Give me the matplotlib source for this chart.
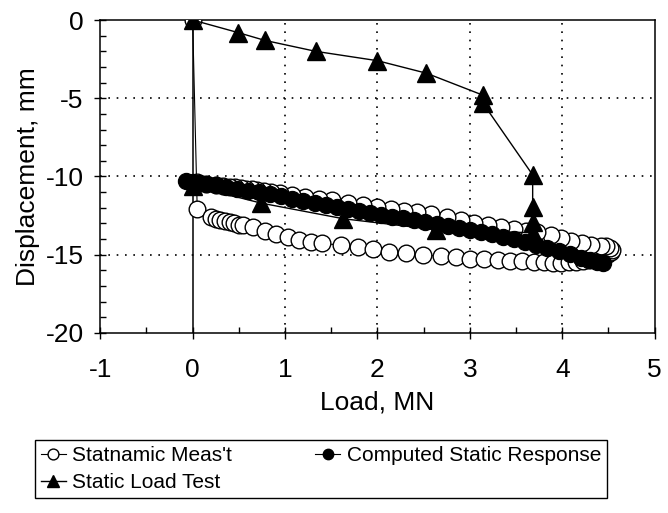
import matplotlib.pyplot as plt

plt.rcParams['font.family'] = ['Liberation Sans', 'DejaVu Sans']
plt.rcParams['axes.unicode_minus'] = False

# Statnamic measurement (open circles), loop: down the lower branch, back along the upper one
stat_x = [0.0, 0.05, 0.2, 0.25, 0.3, 0.35, 0.4, 0.45, 0.5, 0.55, 0.65, 0.78, 0.9, 1.03,
          1.15, 1.28, 1.4, 1.61, 1.79, 1.95, 2.13, 2.31, 2.49, 2.69, 2.85, 3.0, 3.15, 3.3,
          3.44, 3.57, 3.69, 3.8, 3.9, 3.99, 4.07, 4.15, 4.22, 4.29, 4.35, 4.41, 4.46, 4.5,
          4.53, 4.54, 4.52, 4.47, 4.42, 4.31, 4.21, 4.1, 3.99, 3.88, 3.73, 3.61, 3.48, 3.34,
          3.2, 3.05, 2.9, 2.75, 2.58, 2.43, 2.29, 2.15, 2.0, 1.84, 1.68, 1.51, 1.37, 1.22,
          1.08, 0.95, 0.85, 0.77, 0.7, 0.64, 0.58, 0.52, 0.46, 0.4, 0.33, 0.25, 0.15, 0.05]
stat_y = [0.0, -12.1, -12.6, -12.7, -12.8, -12.87, -12.93, -13.0, -13.07, -13.13, -13.26,
          -13.46, -13.7, -13.88, -14.05, -14.2, -14.27, -14.4, -14.53, -14.65, -14.82, -14.91,
          -15.03, -15.09, -15.17, -15.25, -15.3, -15.35, -15.4, -15.43, -15.46, -15.48, -15.5,
          -15.5, -15.49, -15.46, -15.42, -15.37, -15.3, -15.2, -15.08, -14.95, -14.8, -14.67,
          -14.55, -14.47, -14.42, -14.37, -14.26, -14.1, -13.92, -13.73, -13.58, -13.46,
          -13.35, -13.22, -13.1, -12.95, -12.8, -12.62, -12.42, -12.3, -12.19, -12.08, -11.93,
          -11.8, -11.69, -11.53, -11.42, -11.3, -11.18, -11.06, -10.98, -10.92, -10.86, -10.82,
          -10.78, -10.74, -10.7, -10.66, -10.6, -10.55, -10.45, -10.35]

# Computed static response (filled circles)
comp_x = [-0.07, 0.0, 0.08, 0.16, 0.25, 0.36, 0.48, 0.6, 0.72, 0.84, 0.96, 1.08, 1.2, 1.32,
          1.44, 1.56, 1.68, 1.8, 1.92, 2.04, 2.16, 2.28, 2.4, 2.52, 2.64, 2.76, 2.88, 3.0,
          3.12, 3.24, 3.36, 3.48, 3.6, 3.72, 3.84, 3.96, 4.08, 4.2, 4.3, 4.38, 4.44]
comp_y = [-10.3, -10.35, -10.4, -10.47, -10.55, -10.66, -10.78, -10.9, -11.02, -11.15, -11.28,
          -11.42, -11.56, -11.7, -11.84, -11.96, -12.08, -12.2, -12.32, -12.44, -12.56, -12.68,
          -12.8, -12.92, -13.04, -13.16, -13.28, -13.42, -13.56, -13.7, -13.86, -14.02, -14.2,
          -14.38, -14.58, -14.78, -14.98, -15.18, -15.34, -15.46, -15.52]

# Static load test (triangles)
slt_x = [0.0, 0.49, 0.78, 1.33, 2.0, 2.53, 3.14, 3.14, 3.68, 3.68, 3.68, 3.68, 2.63, 1.63, 0.74, 0.0]
slt_y = [0.0, -0.8, -1.3, -2.0, -2.6, -3.4, -4.8, -5.3, -9.9, -11.95, -12.9, -13.6, -13.4,
         -12.7, -11.7, -10.6]

fig = plt.figure(figsize=(6.68, 5.13), dpi=100)
ax = fig.add_axes([0.15, 0.351, 0.83, 0.61])

ax.plot(stat_x, stat_y, color='black', lw=0.8, marker='o', ms=12, mfc='white',
        mec='black', mew=1.0, zorder=3, label="Statnamic Meas't")
ax.plot(slt_x, slt_y, color='black', lw=1.0, marker='^', ms=13, mfc='black',
        mec='black', zorder=5, label='Static Load Test')
ax.plot(comp_x, comp_y, color='black', lw=0.8, marker='o', ms=11.5, mfc='black',
        mec='black', zorder=4, label='Computed Static Response')

ax.axvline(0, color='black', lw=1.1, zorder=2)

ax.set_xlim(-1, 5)
ax.set_ylim(-20, 0)
ax.set_xticks([-1, 0, 1, 2, 3, 4, 5])
ax.set_yticks([-20, -15, -10, -5, 0])
ax.set_xticks([-0.5, 0.5, 1.5, 2.5, 3.5, 4.5], minor=True)
ax.set_yticks([v for v in range(-19, 0) if v % 5 != 0], minor=True)

for v in [1, 2, 3, 4]:
    ax.axvline(v, color='black', lw=1.2, ls=(0, (1, 4)), zorder=1)
for v in [-5, -10, -15]:
    ax.axhline(v, color='black', lw=1.2, ls=(0, (1, 4)), zorder=1)

for s in ax.spines.values():
    s.set_linewidth(1.1)

ax.tick_params(which='major', direction='inout', length=8, width=1, labelsize=19, pad=14)
ax.tick_params(which='minor', direction='in', length=4, width=1)
ax.tick_params(axis='y', which='major', pad=8)

ax.set_xlabel('Load, MN', fontsize=19, labelpad=6)
ax.set_ylabel('Displacement, mm', fontsize=19, labelpad=4)

fig.legend(loc='upper left', bbox_to_anchor=(0.052, 0.143), ncol=2, fontsize=15,
           frameon=True, fancybox=False, edgecolor='black', framealpha=1,
           handlelength=1.2, handletextpad=0.3, columnspacing=4.0, labelspacing=0.4,
           borderpad=0.3, markerscale=0.65, borderaxespad=0)

fig.savefig('out.png', dpi=100)
